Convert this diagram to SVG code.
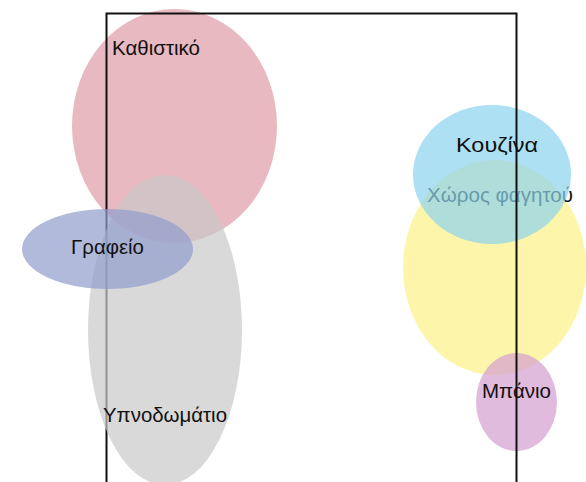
<svg xmlns="http://www.w3.org/2000/svg" width="586" height="482" viewBox="0 0 586 482">
<style>
  text { font-family: "Liberation Sans", Arial, sans-serif; font-size: 21px; fill: #111; }
  .room { fill-opacity: 0.7; stroke: none; }
  .wall { fill: none; stroke: #111; stroke-width: 2; }
</style>
<rect x="0" y="0" width="586" height="482" fill="#ffffff"/>
<g id="dining">
  <ellipse class="room" cx="494.5" cy="267.5" rx="91.5" ry="107.5" fill="#FCF286"/>
  <text x="427" y="202" textLength="146" lengthAdjust="spacingAndGlyphs">Χώρος φαγητού</text>
</g>
<g id="kitchen">
  <ellipse class="room" cx="492" cy="174.5" rx="79" ry="69.5" fill="#8BD3EE"/>
  <text x="456" y="152" textLength="82" lengthAdjust="spacingAndGlyphs">Κουζίνα</text>
</g>
<g id="bathroom">
  <ellipse class="room" cx="516.5" cy="402" rx="40.5" ry="49" fill="#D49ED0"/>
</g>
<g id="living">
  <ellipse class="room" cx="174.5" cy="126" rx="102.5" ry="117" fill="#DE9BA5"/>
  <text x="112" y="55" textLength="88" lengthAdjust="spacingAndGlyphs">Καθιστικό</text>
</g>
<g id="connectors">
  <path class="wall" d="M106.5,482 V13.5 H516.5 V482"/>
</g>
<g id="bedroom">
  <ellipse class="room" cx="165" cy="330" rx="77" ry="155" fill="#C9C9C9"/>
  <text x="103" y="422" textLength="124" lengthAdjust="spacingAndGlyphs">Υπνοδωμάτιο</text>
</g>
<g id="office">
  <ellipse class="room" cx="107.5" cy="249" rx="85.5" ry="40" fill="#919CCD"/>
  <text x="71" y="254" textLength="73" lengthAdjust="spacingAndGlyphs">Γραφείο</text>
</g>
<g id="bathroom-label">
  <text x="482" y="398" textLength="69" lengthAdjust="spacingAndGlyphs">Μπάνιο</text>
</g>
</svg>
